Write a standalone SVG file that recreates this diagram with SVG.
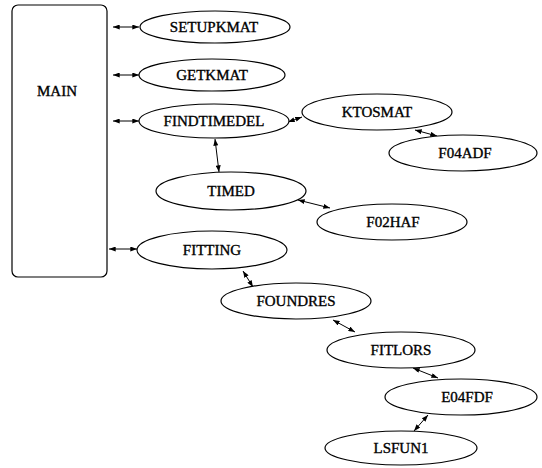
<svg xmlns="http://www.w3.org/2000/svg" width="542" height="468" viewBox="0 0 542 468">
<style>
.n{fill:#fff;stroke:#000;stroke-width:1.2}
.t{font-family:'Liberation Serif','Times New Roman','DejaVu Serif',serif;font-size:15px;text-anchor:middle;fill:#000;stroke:#000;stroke-width:0.35}
.c{stroke:#000;stroke-width:1;fill:none;marker-start:url(#a);marker-end:url(#a)}
</style>
<defs>
<marker id="a" viewBox="0 0 8 6" refX="8" refY="3" markerWidth="7" markerHeight="5" markerUnits="userSpaceOnUse" orient="auto-start-reverse">
<path d="M0,0 L8,3 L0,6 z" fill="#000"/>
</marker>
</defs>
<rect width="542" height="468" fill="#fff"/>
<g id="connectors">
<line class="c" x1="113" y1="27" x2="139" y2="27"/>
<line class="c" x1="113" y1="75" x2="139" y2="75"/>
<line class="c" x1="113" y1="121" x2="139" y2="121"/>
<line class="c" x1="109" y1="249" x2="137" y2="249"/>
<line class="c" x1="288" y1="122" x2="302" y2="117"/>
<line class="c" x1="415" y1="130" x2="437" y2="136"/>
<line class="c" x1="215" y1="139" x2="219" y2="172"/>
<line class="c" x1="298" y1="200" x2="330" y2="208"/>
<line class="c" x1="243" y1="271" x2="253" y2="287"/>
<line class="c" x1="333" y1="320" x2="355" y2="332"/>
<line class="c" x1="413" y1="368" x2="438" y2="378"/>
<line class="c" x1="428" y1="415" x2="414" y2="431"/>
</g>
<g id="MAIN">
<rect class="n" x="12" y="5" width="95" height="272" rx="6"/>
<text class="t" x="57" y="96">MAIN</text>
</g>
<g id="SETUPKMAT">
<ellipse class="n" cx="215" cy="27" rx="75" ry="16"/>
<text class="t" x="214" y="32">SETUPKMAT</text>
</g>
<g id="GETKMAT">
<ellipse class="n" cx="212" cy="75" rx="73" ry="16"/>
<text class="t" x="212" y="80">GETKMAT</text>
</g>
<g id="FINDTIMEDEL">
<ellipse class="n" cx="214" cy="121" rx="75" ry="17"/>
<text class="t" x="214" y="126">FINDTIMEDEL</text>
</g>
<g id="KTOSMAT">
<ellipse class="n" cx="377" cy="112" rx="75" ry="18"/>
<text class="t" x="377" y="117">KTOSMAT</text>
</g>
<g id="F04ADF">
<ellipse class="n" cx="463" cy="153" rx="74" ry="18"/>
<text class="t" x="465" y="158">F04ADF</text>
</g>
<g id="TIMED">
<ellipse class="n" cx="231" cy="191" rx="75" ry="19"/>
<text class="t" x="231" y="196">TIMED</text>
</g>
<g id="F02HAF">
<ellipse class="n" cx="392" cy="222" rx="75" ry="18"/>
<text class="t" x="393" y="227">F02HAF</text>
</g>
<g id="FITTING">
<ellipse class="n" cx="212" cy="250" rx="75" ry="19"/>
<text class="t" x="212" y="255">FITTING</text>
</g>
<g id="FOUNDRES">
<ellipse class="n" cx="296" cy="301" rx="75" ry="18"/>
<text class="t" x="296" y="306">FOUNDRES</text>
</g>
<g id="FITLORS">
<ellipse class="n" cx="401" cy="350" rx="74" ry="18"/>
<text class="t" x="401" y="355">FITLORS</text>
</g>
<g id="E04FDF">
<ellipse class="n" cx="461" cy="397" rx="76" ry="18"/>
<text class="t" x="467" y="402">E04FDF</text>
</g>
<g id="LSFUN1">
<ellipse class="n" cx="401" cy="448" rx="76" ry="17"/>
<text class="t" x="401" y="453">LSFUN1</text>
</g>
</svg>
